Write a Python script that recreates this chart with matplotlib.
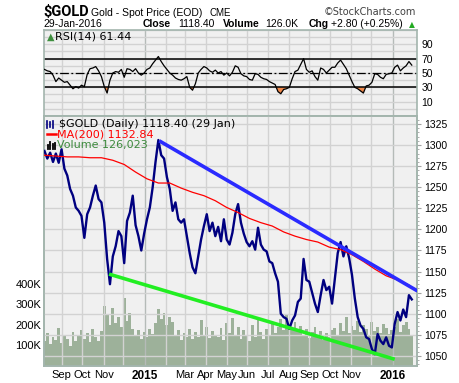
import matplotlib.pyplot as plt
import numpy as np
from matplotlib.ticker import MultipleLocator, FixedLocator, FuncFormatter
from matplotlib.lines import Line2D

# ---- data (one sample every 3 trading days from 2014-08-06) ----
start = '2014-08-06'
step = 3

price = [1293, 1284, 1291, 1280, 1290, 1279, 1295, 1272, 1264, 1248, 1240, 1226, 1222, 1216, 1190, 1218, 1226,
         1240, 1252, 1236, 1232, 1208, 1165, 1135, 1168, 1180, 1198, 1192, 1160, 1210, 1220, 1240, 1205, 1192,
         1175, 1195, 1212, 1226, 1250, 1280, 1306, 1288, 1284, 1262, 1248, 1222, 1232, 1212, 1208, 1212, 1192,
         1172, 1155, 1148, 1168, 1188, 1204, 1218, 1198, 1208, 1192, 1203, 1186, 1212, 1188, 1182, 1196,
         1218, 1230, 1208, 1195, 1185, 1180, 1186, 1176, 1202, 1182, 1176, 1174, 1162, 1160, 1148, 1138, 1100,
         1096, 1094, 1082, 1092, 1098, 1114, 1118, 1165, 1140, 1138, 1125, 1112, 1102, 1122, 1140, 1128,
         1132, 1112, 1142, 1172, 1185, 1168, 1180, 1166, 1146, 1118, 1096, 1086, 1082, 1072, 1070, 1058, 1052,
         1076, 1068, 1064, 1072, 1062, 1060, 1088, 1102, 1092, 1105, 1096, 1122, 1117]

volume_k = [120, 160, 105, 140, 125, 185, 110, 150, 130, 95, 165, 120, 145, 175, 130, 160, 115, 180, 140, 120, 170,
            290, 250, 200, 280, 210, 240, 190, 330, 220, 260, 180,
            150, 175, 130, 165, 140, 180, 155,
            210, 275, 230, 260, 200, 240, 215,
            150, 175, 125, 160, 140, 180, 130,
            165, 140, 225, 150, 190, 135, 170, 150,
            140, 185, 125, 210, 160, 235, 150, 190, 130, 175,
            150, 120, 200, 140, 235, 165, 130, 180, 145, 205, 160, 190,
            230, 175, 250, 200, 185, 215, 170, 195,
            150, 180, 135, 165, 190, 145, 170, 125, 160, 140, 175,
            185, 150, 210, 170, 240, 160, 195, 175, 220,
            165, 200, 180, 150, 215, 170, 190, 160, 205, 185, 155, 175,
            190, 230, 165, 200, 215, 180, 150]

rsi = [55, 53, 52, 47, 38, 43, 40, 37, 38, 33, 28, 31, 29, 33, 31, 48, 56, 57, 59, 53,
       45, 31, 22, 40, 50, 52, 51, 55, 44, 56, 55, 52, 56, 50, 47, 50, 55, 57, 63, 68,
       73, 66, 60, 55, 50, 47, 43, 41, 40, 42, 45, 30, 26, 35, 50, 55, 59, 57, 53, 51,
       54, 50, 52, 47, 50, 46, 51, 60, 58, 49, 46, 45, 41, 40, 49, 48, 44, 42, 41, 38,
       36, 34, 24, 21, 27, 28, 30, 42, 52, 54, 62, 70, 55, 51, 53, 45, 40, 57, 55, 50,
       54, 58, 58, 64, 68, 62, 56, 47, 38, 30, 28, 25, 22, 32, 33, 37, 49, 48, 44, 42,
       48, 49, 50, 58, 61, 53, 57, 60, 66, 61]

ma_step = 12
ma200 = [1288, 1287, 1286, 1286, 1285, 1285, 1282, 1277, 1268, 1260, 1255, 1255, 1249, 1244, 1240, 1234, 1226,
         1220, 1213, 1208, 1204, 1197, 1192, 1188, 1185, 1179, 1176, 1170, 1162, 1153, 1145, 1140, 1134]

blue_dates = ['2015-01-22', '2016-02-08']
blue_vals = [1305, 1127]
green_dates = ['2014-11-10', '2016-01-05']
green_vals = [1147, 1046]

month_starts = ['2014-09-01', '2014-10-01', '2014-11-01', '2014-12-01', '2015-01-01', '2015-02-01',
                '2015-03-01', '2015-04-01', '2015-05-01', '2015-06-01', '2015-07-01', '2015-08-01',
                '2015-09-01', '2015-10-01', '2015-11-01', '2015-12-01', '2016-01-01']
month_labels = ['Sep', 'Oct', 'Nov', '', '2015', '', 'Mar', 'Apr', 'May', 'Jun', 'Jul', 'Aug',
                'Sep', 'Oct', 'Nov', '', '2016']


def tday(d):
    return np.busday_count(start, np.datetime64(d, 'D'))


x_px = np.arange(len(price)) * step
x_ma = np.arange(len(ma200)) * ma_step
rsi = np.array(rsi, dtype=float)
month_x = [tday(d) for d in month_starts]

W, H = 460, 383
def fx(x): return x / W
def fy(y): return 1 - y / H

plt.rcParams['font.family'] = ['Liberation Sans', 'DejaVu Sans']
fig = plt.figure(figsize=(4.6, 3.83), dpi=100)
fig.patch.set_facecolor('white')

bg = '#f0f0f0'
edge = '#a3b5ad'
gridc = '#d2d2d2'
xlim = (-0.5, 392.5)

ax_rsi = fig.add_axes([fx(44), fy(116), fx(373), 86 / H])
ax_vol = fig.add_axes([fx(44), fy(366), fx(373), 250 / H])
ax_px = ax_vol.twinx()

for a in (ax_rsi, ax_vol, ax_px):
    for s in a.spines.values():
        s.set_color(edge)
        s.set_linewidth(1.2)
ax_rsi.set_facecolor(bg)
ax_vol.set_facecolor(bg)

# month grid lines
for a in (ax_rsi, ax_px):
    for m, lab in zip(month_x, month_labels):
        yr = lab.startswith('20')
        a.axvline(m, color='#b5bbb8' if yr else gridc, lw=1.0, zorder=0.5)

# ---- RSI panel ----
ax_rsi.plot(x_px, rsi, color='black', lw=0.9, zorder=3)
ax_rsi.fill_between(x_px, rsi, 30, where=rsi < 30, interpolate=True, color='#f0884a', lw=0, zorder=2)
ax_rsi.axhline(70, color='black', lw=1.1, zorder=2)
ax_rsi.axhline(30, color='black', lw=1.1, zorder=2)
ax_rsi.axhline(50, color='black', lw=0.9, ls=(0, (7, 2, 1.5, 2)), zorder=2)
ax_rsi.set_xlim(*xlim)
ax_rsi.set_ylim(-10, 110)
ax_rsi.yaxis.set_major_locator(MultipleLocator(10))
ax_rsi.yaxis.set_major_formatter(FuncFormatter(lambda v, p: f'{int(v)}' if int(v) in (10, 30, 50, 70, 90) else ''))
ax_rsi.yaxis.tick_right()
ax_rsi.grid(axis='y', color=gridc, lw=1.0, zorder=0.5)
ax_rsi.set_axisbelow(True)
ax_rsi.tick_params(axis='y', length=0, labelsize=7.5, pad=3, colors='black')
ax_rsi.tick_params(axis='x', length=0, labelbottom=False)

# ---- volume ----
ax_vol.bar(x_px, volume_k, width=step, color='#9db19a', lw=0, zorder=1)
ax_vol.set_ylim(0, 1215)
ax_vol.set_xlim(*xlim)
ax_vol.yaxis.set_major_locator(FixedLocator([100, 200, 300, 400]))
ax_vol.yaxis.set_major_formatter(FuncFormatter(lambda v, p: f'{int(v)}K'))
ax_vol.tick_params(axis='y', length=0, labelsize=8, pad=2)
ax_vol.set_xticks(month_x)
ax_vol.set_xticklabels(month_labels)
ax_vol.tick_params(axis='x', length=0, labelsize=8, pad=3)
for t in ax_vol.get_xticklabels():
    if t.get_text().startswith('20'):
        t.set_fontweight('bold')
        t.set_fontsize(8.5)

# ---- price ----
ax_px.plot(x_px, price, color='#000080', lw=1.7, zorder=3)
ax_px.plot(x_ma, ma200, color='#ff0000', lw=0.9, zorder=4)
ax_px.plot([tday(d) for d in blue_dates], blue_vals, color='#2a2aff', lw=2.6, zorder=5,
           solid_capstyle='butt')
ax_px.plot([tday(d) for d in green_dates], green_vals, color='#22ee22', lw=2.6, zorder=5,
           solid_capstyle='butt')
ax_px.set_xlim(*xlim)
ax_px.set_ylim(1038, 1334.5)
ax_px.yaxis.set_major_locator(MultipleLocator(25))
ax_px.yaxis.set_minor_locator(MultipleLocator(5))
ax_px.grid(axis='y', color=gridc, lw=1.0, zorder=0.5)
ax_px.set_axisbelow(True)
ax_px.tick_params(axis='y', which='major', length=3, color='#a0a0a0', labelsize=7.5, pad=2)
ax_px.tick_params(axis='y', which='minor', length=1.5, color='#a0a0a0')

# ---- legends inside panels ----
fig.text(fx(47), fy(37), '\u25b2', color='#3f8f3f', fontsize=7, va='center', family='DejaVu Sans')
fig.text(fx(55), fy(36.5), 'RSI(14) 61.44', fontsize=8, va='center', family='DejaVu Sans')

for i, xx in enumerate([47.5, 50.5, 53.5]):
    fig.add_artist(Line2D([fx(xx), fx(xx)], [fy(127.5 - i % 2), fy(120.5 + i % 2)], color='#000080', lw=1.2))
fig.text(fx(59), fy(124), '$GOLD (Daily) 1118.40 (29 Jan)', fontsize=8, va='center', family='DejaVu Sans')
fig.add_artist(Line2D([fx(47), fx(56)], [fy(134), fy(134)], color='#ff0000', lw=1.8))
fig.text(fx(57.5), fy(134.5), 'MA(200) 1132.84', fontsize=8, va='center', color='#ff0000', family='DejaVu Sans')
for xx, h in zip([48, 50.5, 53, 55.5], [4, 7, 5, 6]):
    fig.add_artist(Line2D([fx(xx), fx(xx)], [fy(149), fy(149 - h)], color='black', lw=1.3))
fig.text(fx(57.5), fy(145), 'Volume 126,023', fontsize=8, va='center', color='#3d8a3d', family='DejaVu Sans')

# ---- header ----
fig.text(fx(43), fy(16), '$GOLD', fontsize=10.5, fontweight='bold', va='baseline',
         family=['Roboto', 'Liberation Sans'])
fig.text(fx(91.5), fy(16), 'Gold - Spot Price (EOD)', fontsize=7.5, va='baseline')
fig.text(fx(210), fy(16), 'CME', fontsize=7, va='baseline')
fig.text(fx(416), fy(15), '\u00a9StockCharts.com', fontsize=7, va='baseline', ha='right',
         color='#404040', family='DejaVu Sans')
fig.text(fx(43), fy(27), '29-Jan-2016', fontsize=7.5, va='baseline')
fig.text(fx(143), fy(27), 'Close', fontsize=7.5, fontweight='bold', va='baseline')
fig.text(fx(178.5), fy(27), '1118.40', fontsize=7.5, va='baseline')
fig.text(fx(223), fy(27), 'Volume', fontsize=7.5, fontweight='bold', va='baseline')
fig.text(fx(265.5), fy(27), '126.0K', fontsize=7.5, va='baseline')
fig.text(fx(309), fy(27), 'Chg', fontsize=7.5, fontweight='bold', va='baseline')
fig.text(fx(331.5), fy(27), '+2.80 (+0.25%)', fontsize=7.5, va='baseline')
fig.text(fx(408.5), fy(27), '\u25b2', fontsize=5.5, va='baseline', color='#22aa22', family='DejaVu Sans')

fig.savefig('out.png', dpi=100)
